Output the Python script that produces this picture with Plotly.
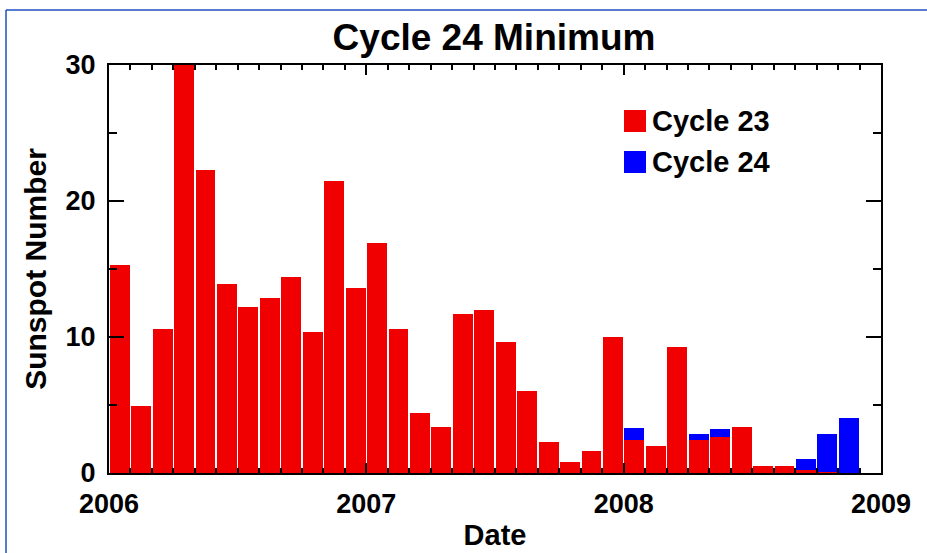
import plotly.graph_objects as go

months = [f"{y}-{m:02d}" for y in (2006, 2007, 2008) for m in range(1, 13)][:35]
cycle23 = [15.3, 4.9, 10.6, 30.2, 22.3, 13.9, 12.2, 12.9, 14.4, 10.4, 21.5, 13.6,
           16.9, 10.6, 4.4, 3.4, 11.7, 12.0, 9.6, 6.0, 2.3, 0.8, 1.6, 10.0,
           2.4, 2.0, 9.3, 2.4, 2.65, 3.35, 0.5, 0.5, 0.2, 0.1, 0.0]
cycle24 = [0.0] * 24 + [0.9, 0.0, 0.0, 0.5, 0.55, 0.0, 0.0, 0.0, 0.8, 2.75, 4.05]
year_ticks = [2006, 2007, 2008, 2009]
y_ticks = [0, 10, 20, 30]

x = [int(m[:4]) + (int(m[5:]) - 0.5) / 12 for m in months]
bw = 0.93 / 12

FONT = "Liberation Sans"
RED = "#f00000"
BLUE = "#0000ff"

fig = go.Figure()
fig.add_trace(go.Bar(x=x, y=cycle23, width=bw, marker=dict(color=RED, line=dict(width=0)),
                     name="Cycle 23"))
fig.add_trace(go.Bar(x=x, y=cycle24, width=bw, marker=dict(color=BLUE, line=dict(width=0)),
                     name="Cycle 24"))

L, R, T, B = 109, 46, 65, 80
W, H = 927, 553
pw, ph = W - L - R, H - T - B

def px(xp):
    return (xp - L) / pw

def py(yp):
    return (H - B - yp) / ph

fig.update_layout(
    width=W, height=H,
    margin=dict(l=L, r=R, t=T, b=B, autoexpand=False),
    barmode="stack",
    bargap=0,
    showlegend=False,
    plot_bgcolor="white",
    paper_bgcolor="white",
    font=dict(family=FONT, color="black"),
    title=dict(text="<b>Cycle 24 Minimum</b>", x=(494) / W, xanchor="center",
               y=1 - 37 / H, yanchor="middle", yref="container",
               font=dict(size=37, family=FONT, color="black")),
    xaxis=dict(range=[2006, 2009], tickvals=year_ticks, ticktext=[f"<b>{v}</b>" for v in year_ticks],
               ticks="inside", ticklen=10, tickwidth=2, tickcolor="black",
               minor=dict(dtick=1 / 12, tick0=2006, ticks="inside", ticklen=5, tickwidth=2, tickcolor="black"),
               showline=True, linewidth=2, linecolor="black", mirror="ticks",
               showgrid=False, zeroline=False, automargin=False,
               tickfont=dict(size=27, family=FONT, color="black"),
               ticklabelstandoff=6,
               title=dict(text="<b>Date</b>", font=dict(size=29, family=FONT, color="black"), standoff=6)),
    yaxis=dict(range=[0, 30], tickvals=y_ticks, ticktext=[f"<b>{v}</b>" for v in y_ticks],
               ticks="inside", ticklen=15, tickwidth=2, tickcolor="black",
               minor=dict(dtick=5, ticks="inside", ticklen=8, tickwidth=2, tickcolor="black"),
               showline=True, linewidth=2, linecolor="black", mirror="ticks",
               showgrid=False, zeroline=False, automargin=False,
               tickfont=dict(size=27, family=FONT, color="black"),
               ticklabelstandoff=6,
               title=dict(text="<b>Sunspot Number</b>", font=dict(size=30, family=FONT, color="black"), standoff=10)),
)

# legend (drawn manually for large swatches)
legend_items = [("Cycle 23", RED, 121), ("Cycle 24", BLUE, 162)]
for label, col, yc in legend_items:
    fig.add_shape(type="rect", xref="paper", yref="paper",
                  x0=px(624), x1=px(646), y0=py(yc - 11), y1=py(yc + 11),
                  fillcolor=col, line=dict(width=0))
    fig.add_annotation(xref="paper", yref="paper", x=px(650), y=py(yc), xanchor="left", yanchor="middle",
                       text=f"<b>{label}</b>", showarrow=False,
                       font=dict(size=29, family=FONT, color="black"))

# thin blue frame at top/left of the image
fig.add_shape(type="line", xref="paper", yref="paper", x0=px(6), x1=px(6), y0=py(10), y1=py(H + 5),
              line=dict(color="#1f4fc0", width=1.5))
fig.add_shape(type="line", xref="paper", yref="paper", x0=px(6), x1=px(W + 5), y0=py(10), y1=py(10),
              line=dict(color="#1f4fc0", width=1.5))

fig.write_html("out.html", config={"displayModeBar": False},
               post_script="document.body.style.margin='0';document.body.style.overflow='hidden';")
